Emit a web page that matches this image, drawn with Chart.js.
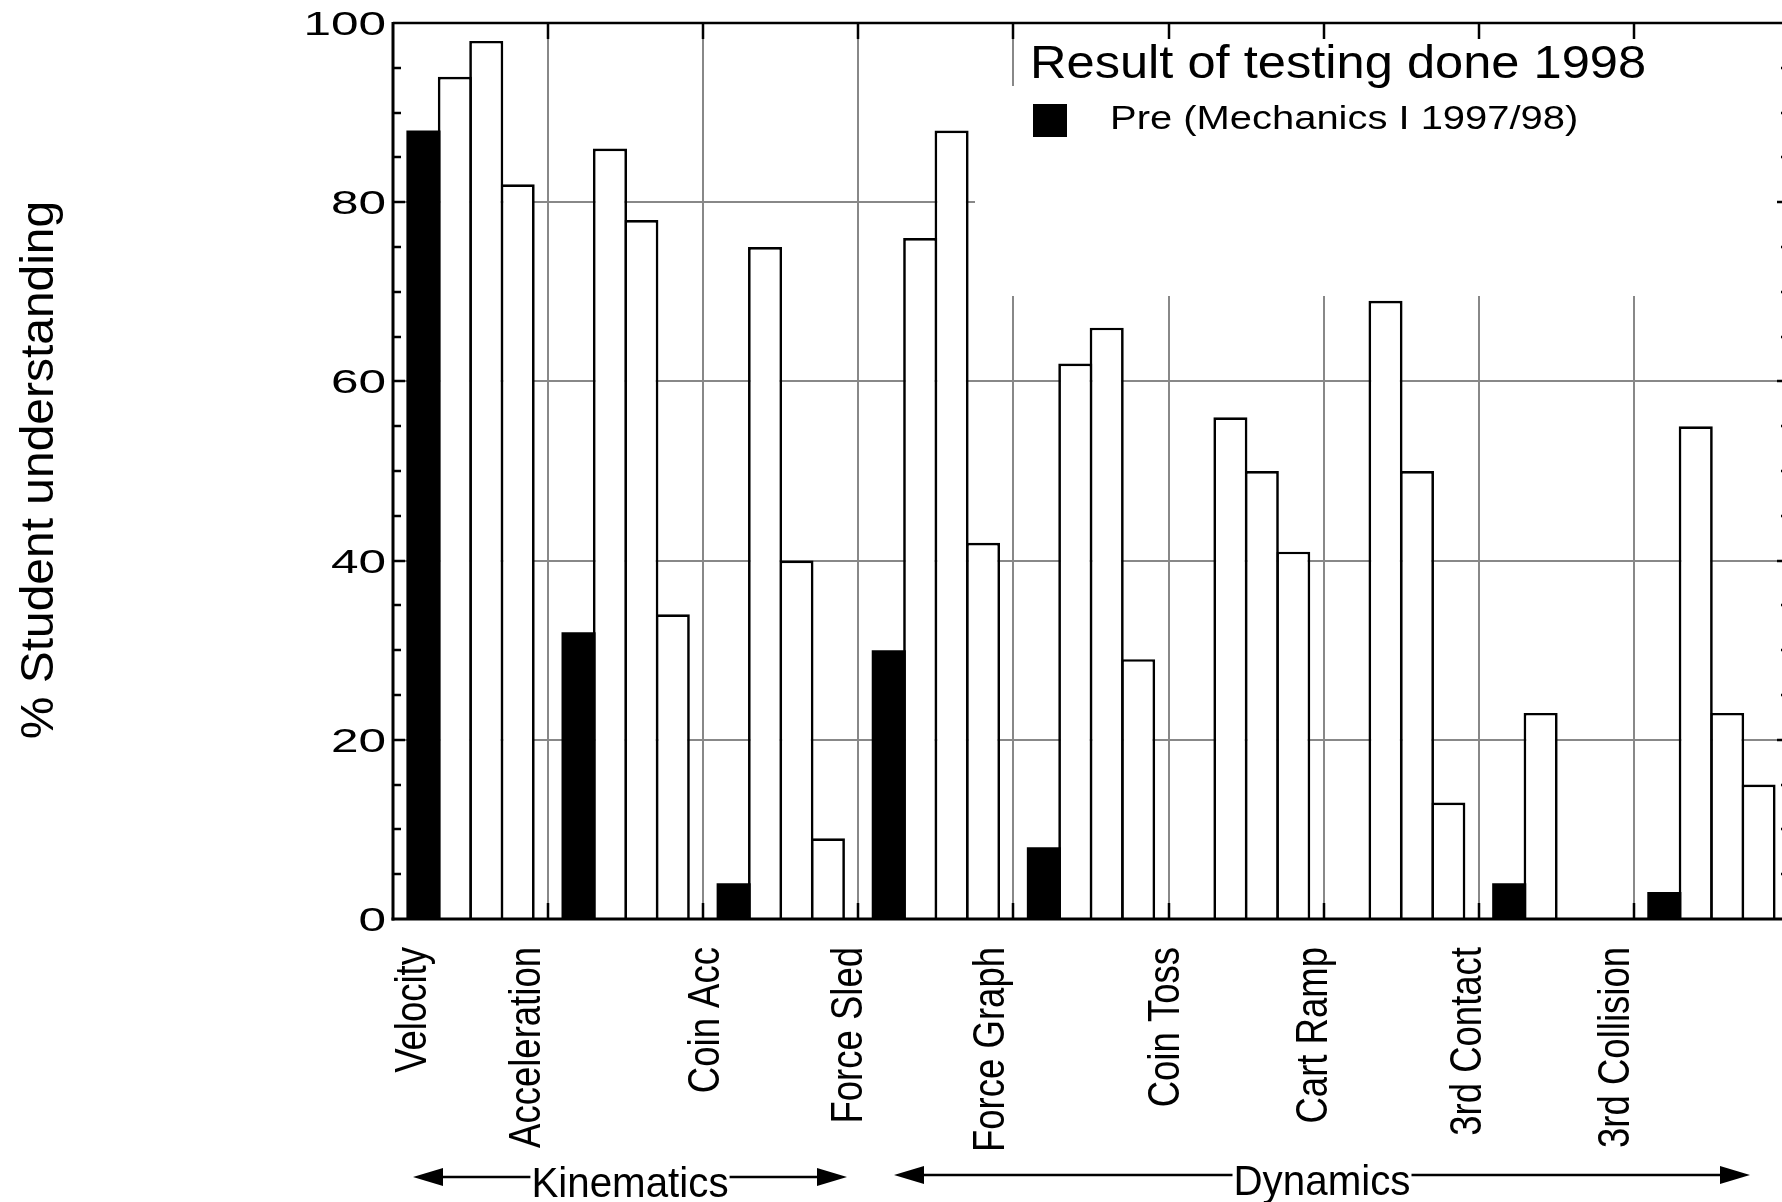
<!DOCTYPE html>
<html>
<head>
<meta charset="utf-8">
<script src="https://cdn.jsdelivr.net/npm/chart.js@4.4.1/dist/chart.umd.min.js"></script>
<style>
html, body { margin: 0; padding: 0; overflow: hidden; background: #fff; }
#wrap { position: relative; width: 1800px; height: 1202px; }
</style>
</head>
<body>
<div id="wrap"><canvas id="c" width="1800" height="1202"></canvas></div>
<script>
// ---------------- data ----------------
const categories = ['Velocity', 'Acceleration', 'Coin Acc', 'Force Sled', 'Force Graph', 'Coin Toss', 'Cart Ramp', '3rd Contact', '3rd Collision'];
const preValues    = [88, 32, 4, 30, 8, 0, 0, 4, 3];
const secondValues = [94, 86, 75, 76, 62, 56, 69, 23, 55];
const thirdValues  = [98, 78, 40, 88, 66, 50, 50, 0, 23];
const fourthValues = [82, 34, 9, 42, 29, 41, 13, 0, 15];
const yTickLabels = [0, 20, 40, 60, 80, 100];
const yMinorStep = 5;
const chartTitle = 'Result of testing done 1998';
const legendLabel = 'Pre (Mechanics I 1997/98)';
const yAxisTitle = '% Student understanding';
const topicNames = ['Kinematics', 'Dynamics'];

// ---------------- drawing helpers ----------------
const FONT = '"Liberation Sans", Arial, Helvetica, sans-serif';
function txt(ctx, s, x, y, o) {
  ctx.save();
  ctx.translate(x, y);
  if (o.rot) ctx.rotate(o.rot);
  ctx.scale(o.sx || 1, o.sy || 1);
  ctx.font = o.size + 'px ' + FONT;
  ctx.textAlign = o.align || 'left';
  ctx.textBaseline = 'alphabetic';
  ctx.fillStyle = '#000';
  ctx.fillText(s, 0, o.dy || 0);
  ctx.restore();
}
function line(ctx, x1, y1, x2, y2) {
  ctx.beginPath(); ctx.moveTo(x1, y1); ctx.lineTo(x2, y2); ctx.stroke();
}
function boundary(xs, i) {
  const n = categories.length;
  if (i <= 0) return xs.left;
  if (i >= n) return xs.right;
  return (xs.getPixelForValue(i - 1) + xs.getPixelForValue(i)) / 2;
}
function arrow(ctx, x1, x2, y, label) {
  ctx.save();
  ctx.font = '42px ' + FONT;
  const sx = 0.96;
  const w = ctx.measureText(label).width * sx;
  const mid = (x1 + x2) / 2;
  ctx.lineWidth = 2.5; ctx.strokeStyle = '#000'; ctx.fillStyle = '#000';
  const hl = 30, hh = 9;
  line(ctx, x1 + hl - 2, y, mid - w / 2 - 1, y);
  line(ctx, mid + w / 2 + 1, y, x2 - hl + 2, y);
  ctx.beginPath(); ctx.moveTo(x1, y); ctx.lineTo(x1 + hl, y - hh); ctx.lineTo(x1 + hl, y + hh); ctx.closePath(); ctx.fill();
  ctx.beginPath(); ctx.moveTo(x2, y); ctx.lineTo(x2 - hl, y - hh); ctx.lineTo(x2 - hl, y + hh); ctx.closePath(); ctx.fill();
  ctx.restore();
  txt(ctx, label, mid, y + 20, { size: 42, sx: sx, align: 'center' });
}

const decor = {
  id: 'decor',
  beforeDatasetsDraw(chart) {
    const { ctx, chartArea: a, scales: { x, y } } = chart;
    ctx.save();
    ctx.strokeStyle = '#888888';
    ctx.lineWidth = 2;
    yTickLabels.forEach(v => {
      if (v > 0 && v < 100) {
        const py = Math.round(y.getPixelForValue(v));
        line(ctx, a.left, py, a.right, py);
      }
    });
    for (let i = 1; i < categories.length; i++) {
      const px = Math.round(boundary(x, i));
      line(ctx, px, a.top, px, a.bottom);
    }
    // legend box area hides the grid
    ctx.fillStyle = '#fff';
    ctx.fillRect(975, 86, a.right - 975, 296 - 86);
    ctx.fillRect(1017, a.top + 2, a.right - 1017, 86 - a.top - 2);
    ctx.restore();
  },
  afterDraw(chart) {
    const { ctx, chartArea: a, scales: { x, y } } = chart;
    ctx.save();
    ctx.strokeStyle = '#000';
    ctx.lineCap = 'butt';
    // frame
    ctx.lineWidth = 2.5;
    line(ctx, a.left, a.top, a.right, a.top);
    line(ctx, a.right, a.top, a.right, a.bottom);
    ctx.lineWidth = 3;
    line(ctx, a.left, a.top - 1, a.left, a.bottom + 1.5);
    line(ctx, a.left - 1.5, a.bottom, a.right, a.bottom);
    // y ticks (inward) on both sides
    ctx.lineWidth = 2.5;
    for (let v = yMinorStep; v < 100; v += yMinorStep) {
      const py = Math.round(y.getPixelForValue(v));
      const major = yTickLabels.includes(v);
      const len = major ? 12 : 8;
      line(ctx, a.left, py, a.left + len, py);
      line(ctx, a.right, py, a.right - len, py);
    }
    // x boundary ticks top and bottom
    for (let i = 1; i < categories.length; i++) {
      const px = Math.round(boundary(x, i));
      line(ctx, px, a.top, px, a.top + 16);
      line(ctx, px, a.bottom, px, a.bottom - 16);
    }
    ctx.restore();

    // y tick labels
    yTickLabels.forEach(v => {
      const py = y.getPixelForValue(v);
      txt(ctx, String(v), a.left - 7, py + 12, { size: 33, sx: 1.5, align: 'right' });
    });
    // x category labels (rotated)
    const labelNudge = [18, -23, 1, -11, -24, -5, -12, -13, -20];
    categories.forEach((c, i) => {
      const cx = boundary(x, i) + labelNudge[i];
      txt(ctx, c, cx + 15, a.bottom + 28, { size: 44, sx: 0.83, rot: -Math.PI / 2, align: 'right' });
    });
    // y axis title
    txt(ctx, yAxisTitle, 41 + 12, 470, { size: 47, sx: 1.02, rot: -Math.PI / 2, align: 'center' });
    // title & legend
    txt(ctx, chartTitle, 1030, 78, { size: 46, sx: 1.1 });
    ctx.fillStyle = '#000';
    ctx.fillRect(1033, 104, 34, 33);
    txt(ctx, legendLabel, 1110, 129, { size: 33, sx: 1.21 });
    // topic arrows
    arrow(ctx, 413, 847, 1177, topicNames[0]);
    arrow(ctx, 894, 1750, 1175, topicNames[1]);
  }
};

const whiteBar = { backgroundColor: '#fff', borderColor: '#000', borderWidth: { top: 2.7, left: 2.7, right: 2.7, bottom: 0 } };

new Chart(document.getElementById('c'), {
  type: 'bar',
  data: {
    labels: categories,
    datasets: [
      { label: legendLabel, data: preValues, backgroundColor: '#000', borderColor: '#000', borderWidth: 0 },
      Object.assign({ label: 'Series 2', data: secondValues }, whiteBar),
      Object.assign({ label: 'Series 3', data: thirdValues }, whiteBar),
      Object.assign({ label: 'Series 4', data: fourthValues }, whiteBar)
    ]
  },
  options: {
    responsive: false,
    animation: false,
    devicePixelRatio: 1,
    layout: { padding: { left: 393, top: 23, right: 11, bottom: 283 } },
    datasets: { bar: { categoryPercentage: 0.81, barPercentage: 1.085 } },
    plugins: { legend: { display: false }, tooltip: { enabled: false }, title: { display: false } },
    scales: {
      x: { display: false, offset: true },
      y: { display: false, min: 0, max: 100 }
    }
  },
  plugins: [decor]
});
</script>
</body>
</html>
